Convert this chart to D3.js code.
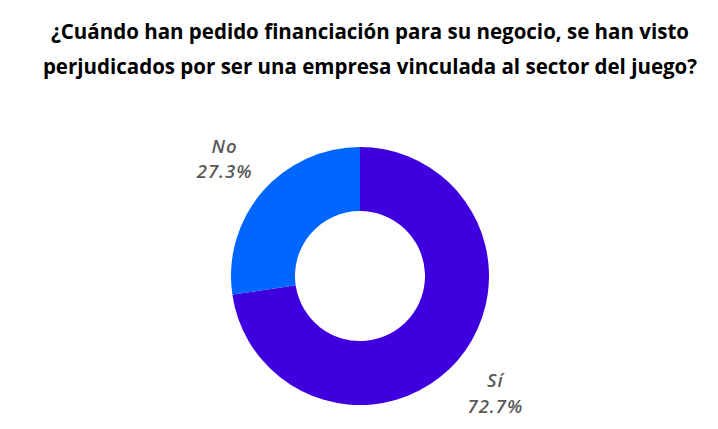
<!DOCTYPE html>
<html>
<head>
<meta charset="utf-8">
<script src="https://cdn.jsdelivr.net/npm/d3@7"></script>
<style>
  body { margin: 0; background: #fff; }
  svg { display: block; }
</style>
</head>
<body>
<svg id="chart" width="718" height="429"></svg>
<script>
const titleLines = [
  '¿Cuándo han pedido financiación para su negocio, se han visto',
  'perjudicados por ser una empresa vinculada al sector del juego?'
]
const categories = ['Sí', 'No']
const shares = [72.7, 27.3]
const sliceColors = ['#3f00e0', '#0066ff']

const svg = d3.select('#chart')

const center = {x: 360, y: 276}
const outerR = 129
const innerR = 65

// title
svg.append('g')
  .selectAll('text')
  .data(titleLines)
  .enter()
  .append('text')
  .attr('x', 370)
  .attr('y', (d, i) => 39 + i * 35)
  .attr('text-anchor', 'middle')
  .style('font-family', 'Open Sans, sans-serif')
  .style('font-weight', 'bold')
  .style('font-size', '20.5px')
  .style('fill', '#000')
  .text((d) => d)

const data = categories.map((c, i) => ({cat: c, value: shares[i], color: sliceColors[i]}))

const pie = d3.pie().sort(null).value((d) => d.value)
const arc = d3.arc().innerRadius(innerR).outerRadius(outerR)

const g = svg.append('g')
  .attr('transform', `translate(${center.x}, ${center.y})`)

const arcs = pie(data)

g.selectAll('path')
  .data(arcs)
  .enter()
  .append('path')
  .attr('d', arc)
  .attr('fill', (d) => d.data.color)

// labels outside the ring, name above percentage
const labelArc = d3.arc().innerRadius(outerR + 50).outerRadius(outerR + 50)

const labelGroups = g.selectAll('.lbl')
  .data(arcs)
  .enter()
  .append('g')
  .attr('class', 'lbl')
  .attr('transform', (d) => `translate(${labelArc.centroid(d)})`)
  .style('font-family', 'Open Sans, sans-serif')
  .style('font-style', 'italic')
  .style('font-weight', '600')
  .style('font-size', '18.5px')
  .style('letter-spacing', '1px')
  .style('fill', '#595959')

labelGroups.append('text')
  .attr('text-anchor', 'middle')
  .attr('y', -6)
  .text((d) => d.data.cat)
labelGroups.append('text')
  .attr('text-anchor', 'middle')
  .attr('y', 19.5)
  .text((d) => d.data.value.toFixed(1) + '%')
</script>
</body>
</html>
